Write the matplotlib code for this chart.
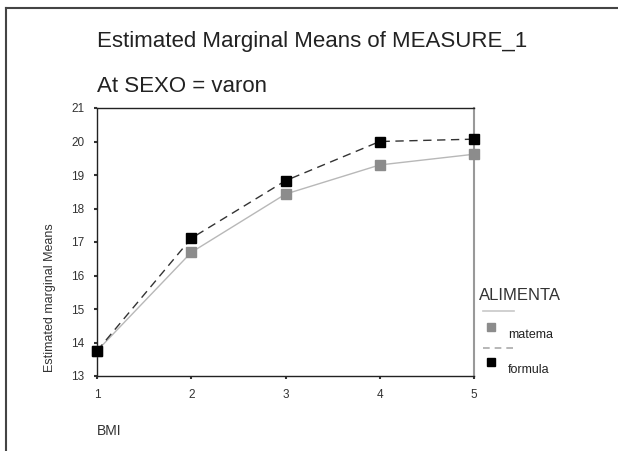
import matplotlib
matplotlib.use("Agg")
import matplotlib.pyplot as plt
from matplotlib.lines import Line2D

plt.rcParams['font.family'] = ['Liberation Sans', 'DejaVu Sans']

# ===================== data =====================
bmi = [1, 2, 3, 4, 5]
materna = [13.75, 16.69, 18.43, 19.30, 19.62]
formula = [13.75, 17.11, 18.83, 20.00, 20.07]
y_ticks = [13, 14, 15, 16, 17, 18, 19, 20, 21]

W, H = 618, 451
fig = plt.figure(figsize=(W / 100, H / 100), dpi=100)

# axes box in pixels: left 97, right 474, top 108, bottom 376
ax = fig.add_axes([97 / W, 1 - 376 / H, (474 - 97) / W, (376 - 108) / H])

ax.plot(bmi, materna, color='#b8b8b8', lw=1.0, zorder=2)
ax.plot(bmi, formula, color='#333333', lw=1.0, ls=(0, (6, 4)), zorder=2)
ax.plot(bmi, materna, ls='none', marker='s', ms=6.5, color='#8c8c8c', zorder=3, clip_on=False)
ax.plot(bmi, formula, ls='none', marker='s', ms=6.5, color='black', zorder=4, clip_on=False)

ax.set_xlim(1, 5)
ax.set_ylim(13, 21)
ax.set_xticks(bmi)
ax.set_yticks(y_ticks)
ax.tick_params(labelsize=8.5, length=2, width=1.5, colors='#333333', pad=7)
for s in ['left', 'bottom', 'top']:
    ax.spines[s].set_color('#222222')
    ax.spines[s].set_linewidth(1.0)
ax.spines['right'].set_color('#999999')
ax.spines['right'].set_linewidth(1.5)

# titles and labels
fig.text(97 / W, 1 - 42 / H, 'Estimated Marginal Means of MEASURE_1', fontsize=16,
         color='#222222', va='center', ha='left')
fig.text(97 / W, 1 - 87 / H, 'At SEXO = varon', fontsize=16,
         color='#222222', va='center', ha='left')
fig.text(97 / W, 1 - 431 / H, 'BMI', fontsize=10, color='#333333', va='center', ha='left')
fig.text(50 / W, 1 - 298 / H, 'Estimated marginal Means', fontsize=9, color='#333333',
         rotation=90, va='center', ha='center')

# legend drawn by hand
fig.text(479 / W, 1 - 295 / H, 'ALIMENTA', fontsize=12, color='#333333', va='center', ha='left')
fig.add_artist(Line2D([483 / W, 514 / W], [1 - 311 / H] * 2, color='#c8c8c8', lw=1.2))
fig.add_artist(Line2D([491 / W], [1 - 327 / H], marker='s', ms=6, color='#8c8c8c'))
fig.text(508 / W, 1 - 335 / H, 'matema', fontsize=9, color='#222222', va='center', ha='left')
fig.add_artist(Line2D([483 / W, 514 / W], [1 - 348 / H] * 2, color='#aaaaaa', lw=1.2,
                      ls=(0, (4, 3))))
fig.add_artist(Line2D([491 / W], [1 - 362 / H], marker='s', ms=6, color='black'))
fig.text(508 / W, 1 - 370 / H, 'formula', fontsize=9, color='#222222', va='center', ha='left')

# outer frame (top and left visible)
fig.add_artist(Line2D([6 / W, 1], [1 - 8 / H] * 2, color='#444444', lw=1.5))
fig.add_artist(Line2D([6 / W] * 2, [0, 1 - 8 / H], color='#444444', lw=1.5))

fig.savefig('out.png', dpi=100, facecolor='white')
